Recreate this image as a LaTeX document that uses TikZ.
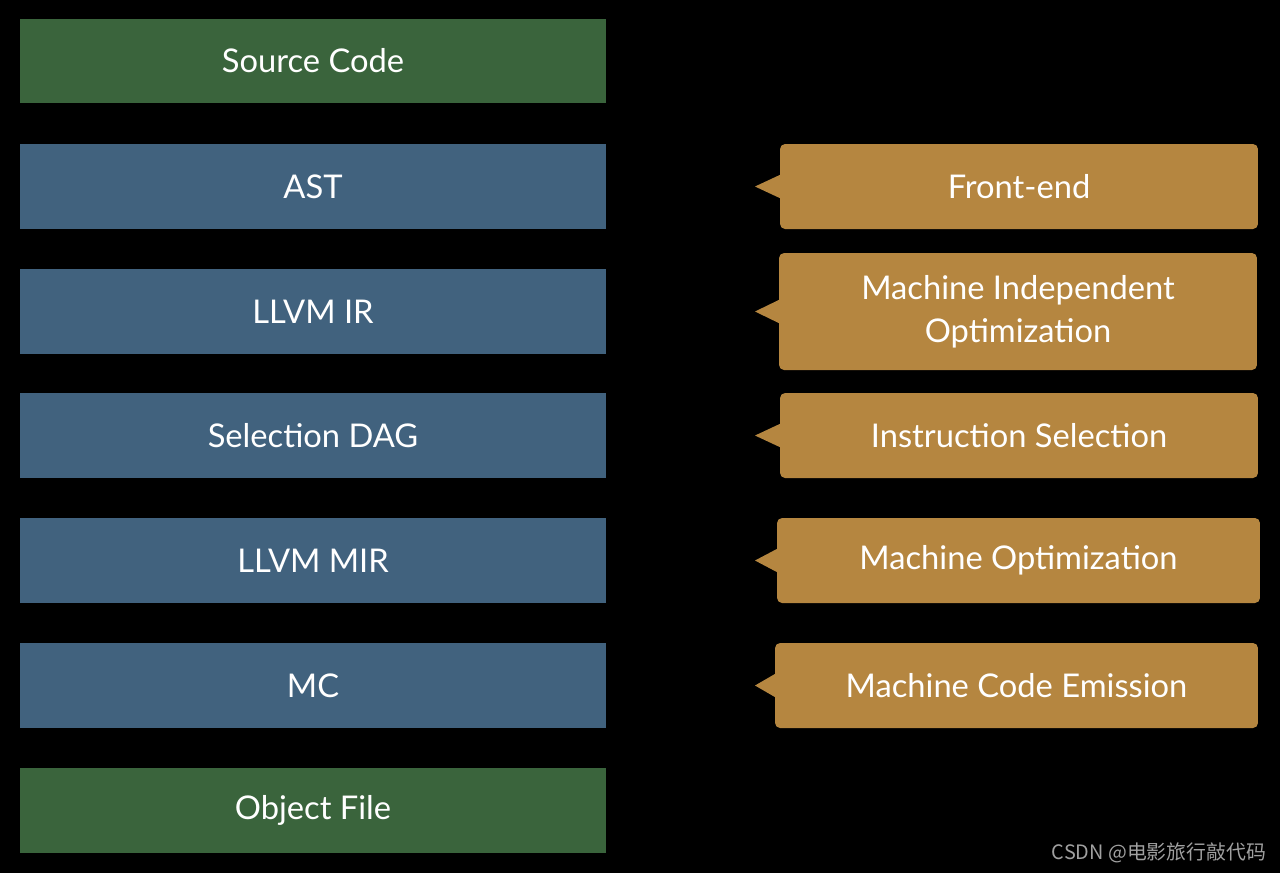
\documentclass[tikz,border=0pt]{standalone}
\usepackage{fontspec}
\setmainfont{Lato}
\newfontfamily\cjk{Noto Sans CJK SC}
\usetikzlibrary{calc}
\definecolor{srcgreen}{HTML}{3A643C}
\definecolor{irblue}{HTML}{41627E}
\definecolor{passgold}{HTML}{B58640}
\definecolor{markgray}{HTML}{A0A0A0}
\begin{document}
\begin{tikzpicture}[x=0.02cm,y=-0.02cm,font=\fontsize{18.6}{24.5}\selectfont,
	stage/.style={minimum width=11.72cm,minimum height=1.7cm,inner sep=0pt,text=white},
	srcbox/.style={stage,fill=srcgreen},
	irbox/.style={stage,fill=irblue},
	passbox/.style={fill=passgold,rounded corners=0.1cm,minimum width=9.56cm,minimum height=1.7cm,inner sep=0pt,text=white,align=center}]
	\fill[black] (0,0) rectangle (1280,873);
	% stages
	\node[srcbox] (src) at (313,61) {Source Code};
	\node[irbox] (ast) at (313,186.5) {AST};
	\node[irbox] (llvmir) at (313,311.5) {LLVM IR};
	\node[irbox] (sdag) at (313,435.5) {Selection DAG};
	\node[irbox] (mir) at (313,560.5) {LLVM MIR};
	\node[irbox] (mc) at (313,685.5) {MC};
	\node[srcbox] (obj) at (313,810) {Object File};
	% passes
	\node[passbox] (fe) at (1019,186.5) {Front-end};
	\node[passbox,minimum height=2.34cm] (mio) at (1018,311.5) {Machine Independent\\Optimization};
	\node[passbox] (isel) at (1019,435.5) {Instruction Selection};
	\node[passbox,minimum width=9.66cm] (mopt) at (1018.5,560.5) {Machine Optimization};
	\node[passbox,minimum width=9.66cm] (mce) at (1016.5,685.5) {Machine Code Emission};
	\foreach \p in {fe,mio,isel,mopt,mce}
		\fill[passgold] ($(\p.west)+(1,-12)$) -- (755,0 |- \p.west) -- ($(\p.west)+(1,12)$) -- cycle;
	\node[text=markgray,font=\cjk\fontsize{11.3}{12}\selectfont] (mark) at (1159,853) {CSDN @电影旅行敲代码};
\end{tikzpicture}
\end{document}
